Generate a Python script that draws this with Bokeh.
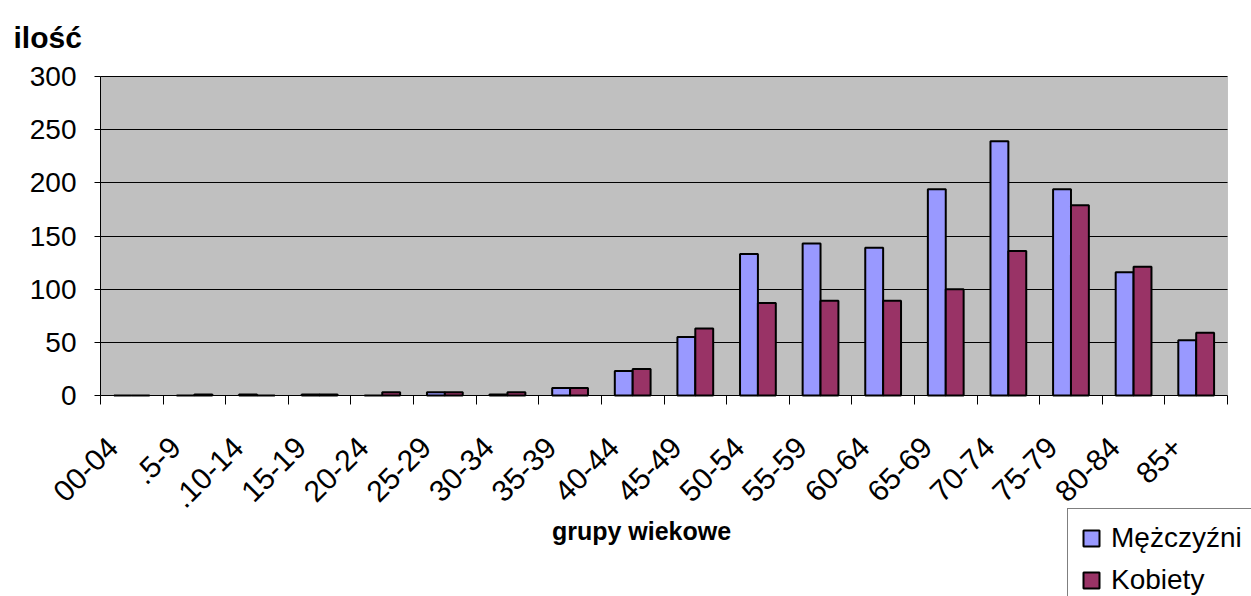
from bokeh.plotting import figure
from bokeh.models import (ColumnDataSource, Range1d, LinearAxis, FixedTicker,
                          BoxAnnotation, Label)
from bokeh.transform import dodge
from bokeh.embed import file_html
from bokeh.resources import INLINE
from math import pi

groups = ["00-04", ".5-9", ".10-14", "15-19", "20-24", "25-29", "30-34", "35-39",
          "40-44", "45-49", "50-54", "55-59", "60-64", "65-69", "70-74", "75-79",
          "80-84", "85+"]
men = [0, 0, 1, 1, 0, 3, 1, 7, 23, 55, 133, 143, 139, 194, 239, 194, 116, 52]
women = [0, 1, 0, 1, 3, 3, 3, 7, 25, 63, 87, 89, 89, 100, 136, 179, 121, 59]
y_ticks = [0, 50, 100, 150, 200, 250, 300]
series_names = ["Mężczyźni", "Kobiety"]
y_title = "ilość"
x_title = "grupy wiekowe"

FONT = "Liberation Sans"
N = len(groups)
YMAX = 300

# canvas geometry (pixels): plotting area spans x 100..1227, y 76..395
W, H = 1251, 596
PX_X = (1227 - 100) / N
PX_Y = (395 - 76) / YMAX

centers = [i + 0.5 for i in range(N)]
bounds = list(range(N + 1))
src = ColumnDataSource(dict(pos=centers, group=groups, men=men, women=women))

# the frame covers the whole canvas so no text is clipped;
# the plotting area proper (0..N, 0..YMAX) is drawn as a grey box
p = figure(width=W, height=H,
           x_range=Range1d(-100 / PX_X, (W - 100) / PX_X),
           y_range=Range1d(-(H - 395) / PX_Y, YMAX + 76 / PX_Y),
           output_backend="svg", toolbar_location=None,
           x_axis_location=None, y_axis_location=None,
           min_border_left=0, min_border_right=0,
           min_border_top=0, min_border_bottom=0)
p.background_fill_color = "white"
p.border_fill_color = "white"
p.outline_line_color = None

area = BoxAnnotation(left=0, right=N, bottom=0, top=YMAX, fill_color="#C0C0C0",
                     fill_alpha=1, line_color="#808080", line_width=1, level="image")
p.add_layout(area)

label_shift = 0.3
xa = LinearAxis(fixed_location=0, bounds=(0, N),
                ticker=FixedTicker(ticks=[c - label_shift for c in centers],
                                   minor_ticks=bounds),
                major_label_overrides={c - label_shift: g for c, g in zip(centers, groups)})
xa.major_label_orientation = pi / 4
xa.major_tick_line_color = None
xa.major_tick_out = 0
xa.major_tick_in = 0
xa.minor_tick_out = 9
xa.minor_tick_in = 0
xa.minor_tick_line_color = "black"
xa.axis_line_color = "black"
xa.major_label_text_font = FONT
xa.major_label_text_font_size = "30px"
xa.major_label_text_color = "black"
xa.major_label_standoff = 38
p.add_layout(xa, "below")

ya = LinearAxis(fixed_location=0, bounds=(0, YMAX), ticker=FixedTicker(ticks=y_ticks))
ya.minor_tick_line_color = None
ya.major_tick_out = 6
ya.major_tick_in = 0
ya.major_tick_line_color = "black"
ya.axis_line_color = "black"
ya.major_label_text_font = FONT
ya.major_label_text_font_size = "28px"
ya.major_label_text_color = "black"
ya.major_label_standoff = 18
p.add_layout(ya, "left")

p.xgrid.visible = False
p.ygrid.ticker = FixedTicker(ticks=y_ticks[1:])
p.ygrid.grid_line_color = "black"
p.ygrid.grid_line_width = 1
if "cross_bounds" in p.ygrid[0].properties():
    p.ygrid.cross_bounds = (0, N)

w = 1 / 3.5
p.vbar(x=dodge("pos", -w / 2), top="men", width=w, source=src,
       fill_color="#9999FF", line_color="black", line_width=2,
       legend_label=series_names[0])
p.vbar(x=dodge("pos", w / 2), top="women", width=w, source=src,
       fill_color="#993366", line_color="black", line_width=2,
       legend_label=series_names[1])

xl = Label(x=(641 - 100) / PX_X, y=-(530 - 395) / PX_Y, text=x_title,
           text_align="center", text_baseline="alphabetic", text_font=FONT,
           text_font_size="25px", text_font_style="bold", text_color="black")
p.add_layout(xl)

yl = Label(x=(13 - 100) / PX_X, y=(395 - 37) / PX_Y, text=y_title,
           text_align="left", text_baseline="alphabetic", text_font=FONT,
           text_font_size="30px", text_font_style="bold", text_color="black")
p.add_layout(yl)

lg = p.legend[0]
lg.location = (1067, -14)
lg.border_line_color = "black"
lg.border_line_width = 1
lg.background_fill_color = "white"
lg.background_fill_alpha = 1
lg.label_text_font = FONT
lg.label_text_font_size = "28px"
lg.label_text_color = "black"
lg.glyph_width = 20
lg.glyph_height = 20
lg.spacing = 10
lg.padding = 13
lg.margin = 0
lg.label_standoff = 10

open("out.html", "w").write(file_html(p, INLINE))
